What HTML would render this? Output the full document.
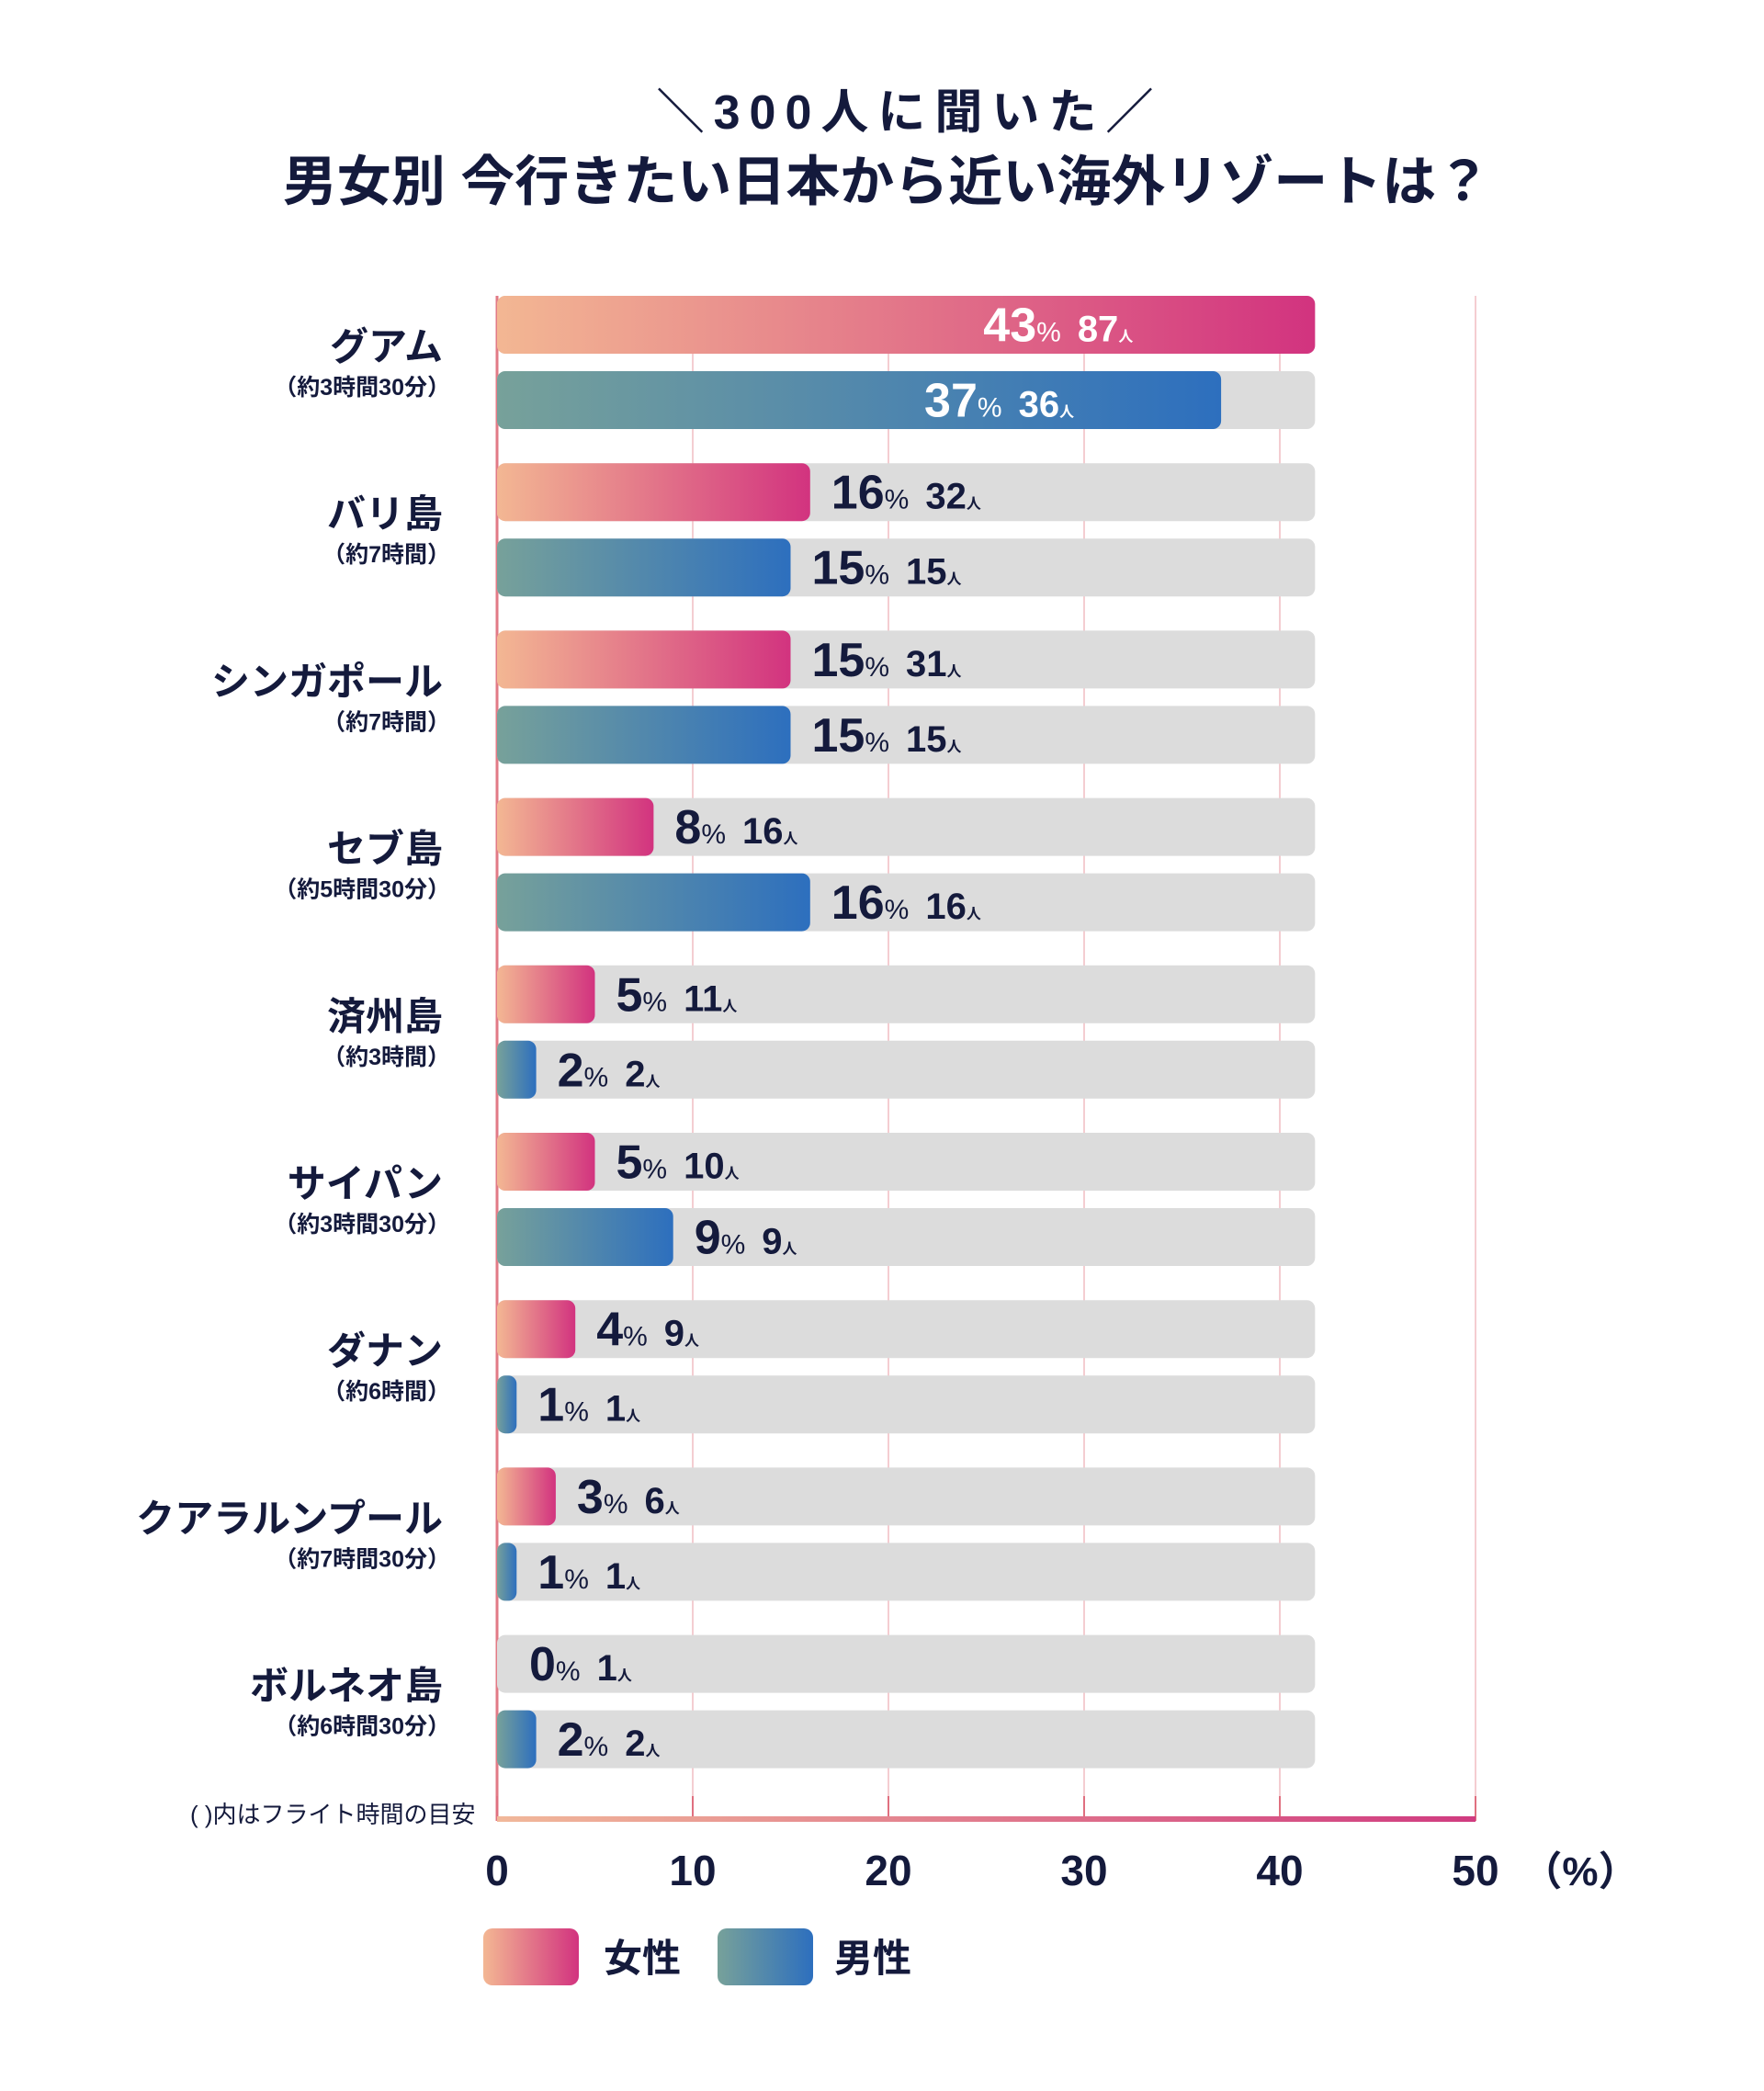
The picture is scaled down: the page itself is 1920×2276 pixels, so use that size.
<!DOCTYPE html>
<html><head><meta charset="utf-8">
<style>
html,body{margin:0;padding:0;background:#fff;}
svg{display:block;font-family:"Liberation Sans","Noto Sans CJK JP",sans-serif;}
</style></head>
<body>
<svg id="chart" width="1920" height="2276" viewBox="0 0 1920 2276" xmlns="http://www.w3.org/2000/svg">
<defs>
<linearGradient id="gF" x1="0" x2="1" y1="0" y2="0"><stop offset="0" stop-color="#f3b793"/><stop offset="1" stop-color="#d2337f"/></linearGradient>
<linearGradient id="gM" x1="0" x2="1" y1="0" y2="0"><stop offset="0" stop-color="#77a19a"/><stop offset="1" stop-color="#2d6fbe"/></linearGradient>
<linearGradient id="gAxis" x1="0" x2="1" y1="0" y2="0"><stop offset="0" stop-color="#f1b89a"/><stop offset="1" stop-color="#d03b80"/></linearGradient>
</defs>
<text x="990" y="140" text-anchor="middle" font-size="52" font-weight="bold" fill="#141a3c" letter-spacing="10">＼300人に聞いた／</text>
<text x="965" y="218" text-anchor="middle" font-size="59" font-weight="bold" fill="#141a3c">男女別 今行きたい日本から近い海外リゾートは？</text>
<g id="grid"></g>
<g id="bars"></g>
<g id="xaxis"></g>
<text x="207" y="1984" font-size="26" fill="#141a3c">( )内はフライト時間の目安</text>
<g>
<rect x="526" y="2099" width="104" height="62" rx="10" fill="url(#gF)"/>
<text x="657" y="2146" font-size="42" font-weight="bold" fill="#141a3c">女性</text>
<rect x="781" y="2099" width="104" height="62" rx="10" fill="url(#gM)"/>
<text x="908" y="2146" font-size="42" font-weight="bold" fill="#141a3c">男性</text>
</g>
</svg>
<script>
const categories=["グアム","バリ島","シンガポール","セブ島","済州島","サイパン","ダナン","クアラルンプール","ボルネオ島"];
const flightTimes=["（約3時間30分）","（約7時間）","（約7時間）","（約5時間30分）","（約3時間）","（約3時間30分）","（約6時間）","（約7時間30分）","（約6時間30分）"];
const femalePct=[43,16,15,8,5,5,4,3,0];
const femaleCount=[87,32,31,16,11,10,9,6,1];
const malePct=[37,15,15,16,2,9,1,1,2];
const maleCount=[36,15,15,16,2,9,1,1,2];
const xTicks=[0,10,20,30,40,50];

const NS="http://www.w3.org/2000/svg";
const X0=541, X1=1606, XMAX=50, TRACK=41.8;
const Y0=322, PITCH=182.2, BH=63, GAP=82;
const xs=v=>X0+(v/XMAX)*(X1-X0);
const ys=i=>Y0+i*PITCH;
function mk(tag,attrs,parent){const e=document.createElementNS(NS,tag);for(const k in attrs)e.setAttribute(k,attrs[k]);parent.appendChild(e);return e;}
const grid=document.getElementById('grid'),bars=document.getElementById('bars'),xa=document.getElementById('xaxis');
const yTop=Y0, yBot=1982;
xTicks.forEach((t,i)=>{
  const l=mk('line',{x1:xs(t),x2:xs(t),y1:yTop,y2:yBot,stroke:t===0?'#e27a86':'#f4cdd1','stroke-width':t===0?3:2},grid);
  
  
  const tk=mk('line',{x1:xs(t),x2:xs(t),y1:1955,y2:yBot,stroke:'#e07080','stroke-width':2},xa);
  
  
  const tl=mk('text',{x:xs(t),y:2052,'text-anchor':'middle','font-size':46,'font-weight':'bold',fill:'#141a3c'},xa);
  tl.textContent=t;
  
  
});
const ax=mk('rect',{x:X0,y:1977,width:X1-X0,height:6,fill:'url(#gAxis)'},xa);


const unit=mk('text',{x:1720,y:2052,'text-anchor':'middle','font-size':44,'font-weight':'bold',fill:'#141a3c'},xa);
unit.textContent='（%）';



function label(g,x,y,pct,cnt,color,anchorEnd){
  const t=mk('text',{x:x,y:y,fill:color,'font-weight':'bold'},g);
  if(anchorEnd)t.setAttribute('text-anchor','end');
  
  
  const a=mk('tspan',{'font-size':52},t);a.textContent=pct;
  const b=mk('tspan',{'font-size':30,'font-weight':'normal'},t);b.textContent='%';
  const c=mk('tspan',{'font-size':40,dx:18},t);c.textContent=cnt;
  const d=mk('tspan',{'font-size':16},t);d.textContent='人';
}
categories.forEach((c,i)=>{
  const y=ys(i);
  const g=mk('g',{},bars);
  
  
  const n=mk('text',{x:482,y:y+70,'text-anchor':'end','font-size':42,'font-weight':'bold',fill:'#141a3c'},g);
  n.textContent=c;
  
  
  const s=mk('text',{x:490,y:y+108,'text-anchor':'end','font-size':25,'font-weight':'bold',fill:'#141a3c'},g);
  s.textContent=flightTimes[i];
  
  
  [[femalePct,femaleCount,'url(#gF)',0,'female'],[malePct,maleCount,'url(#gM)',GAP,'male']].forEach(([P,C,fill,off,nm])=>{
    const by=y+off;
    const tr=mk('rect',{x:X0,y:by,width:xs(TRACK)-X0,height:BH,rx:9,fill:'#dcdcdc'},g);
    
    
    const v=Math.min(P[i],TRACK);
    const w=xs(v)-X0;
    if(w>0){
      const r=mk('rect',{x:X0,y:by,width:w,height:BH,rx:Math.min(9,w/2),fill:fill},g);
      
      
    }
    const end=X0+w;
    if(P[i]>=30) label(g,end-(nm==='female'?198:160),by+BH/2+18,P[i],C[i],'#fff',true);
    else label(g,end+(w>0?23:35),by+BH/2+18,P[i],C[i],'#141a3c',false);
  });
});
</script>
</body></html>
